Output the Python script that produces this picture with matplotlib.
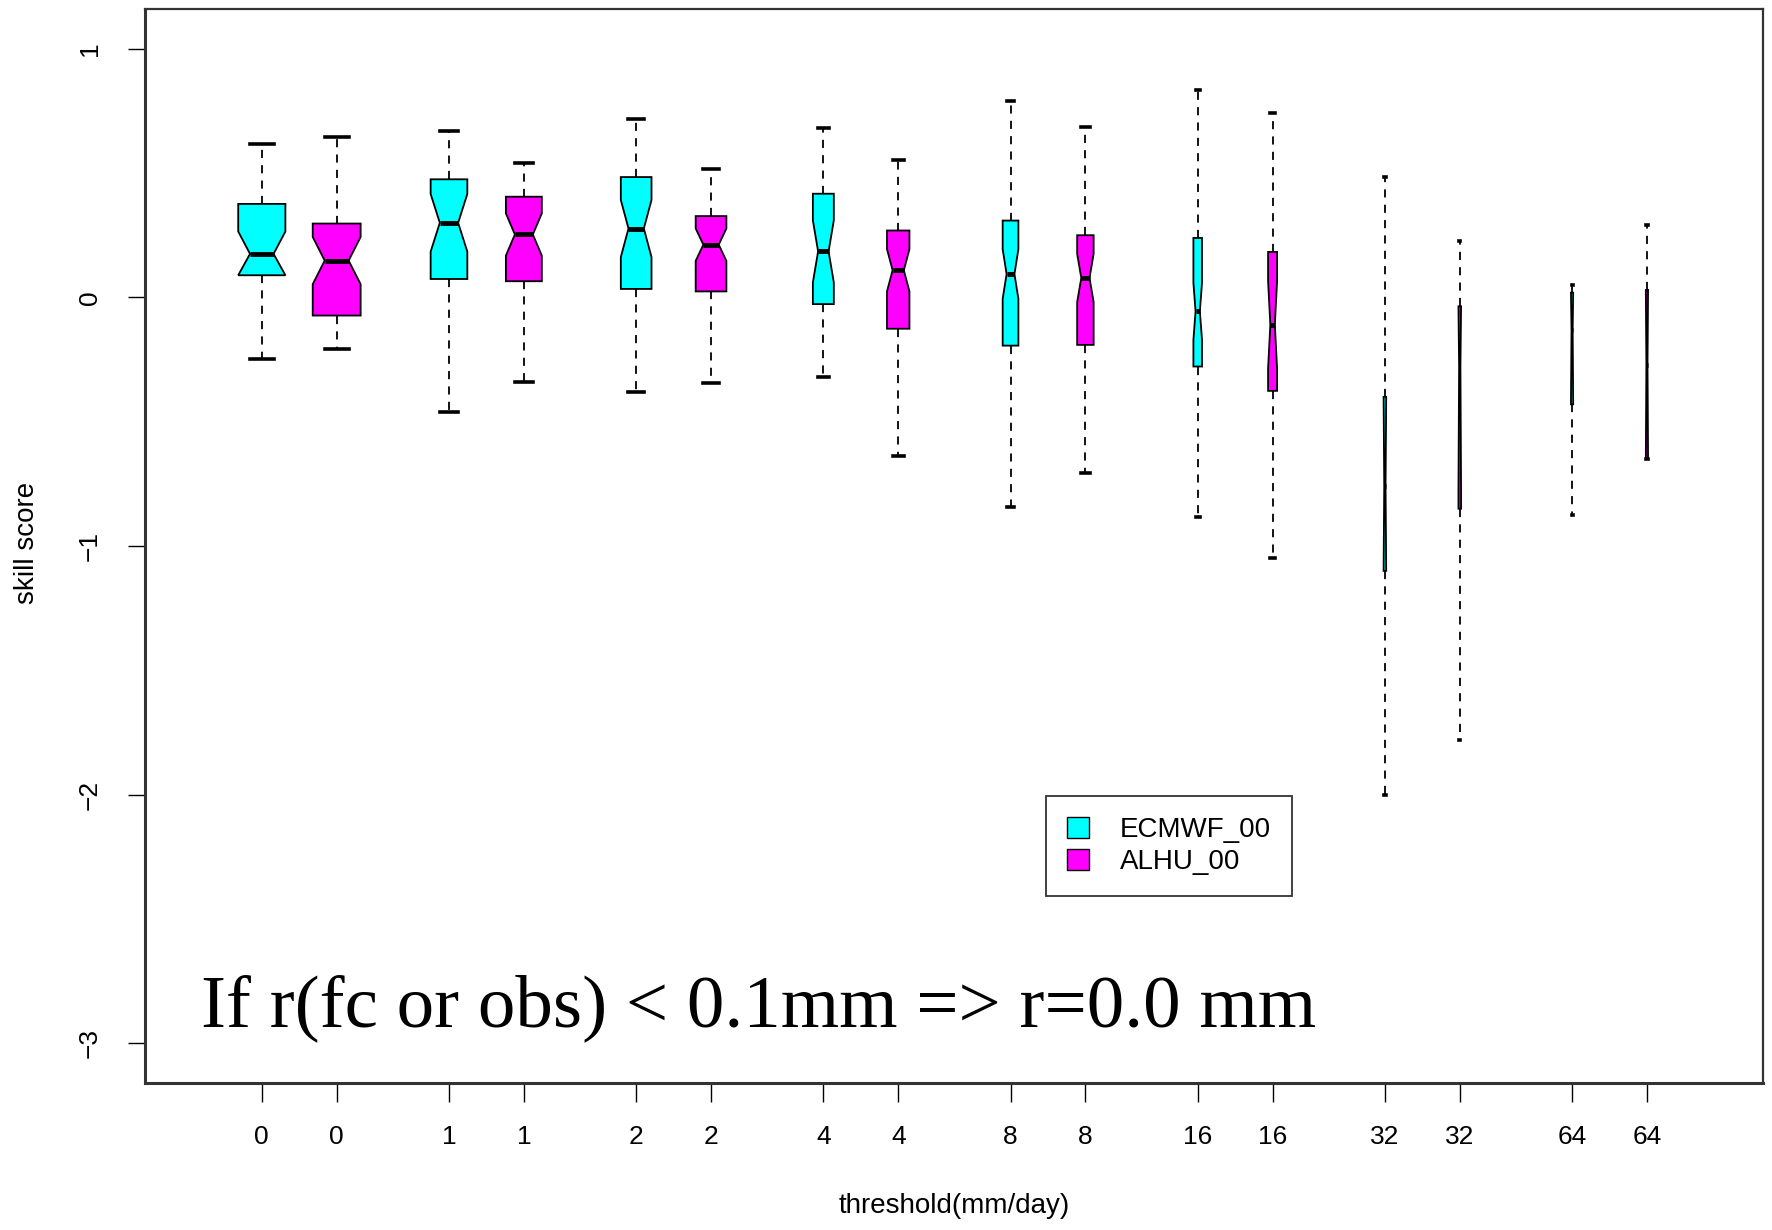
import matplotlib
matplotlib.use("Agg")
import matplotlib.pyplot as plt
from matplotlib.patches import Patch
from matplotlib import font_manager

# ---------------- data ----------------
thresholds = ["0", "1", "2", "4", "8", "16", "32", "64"]
models = ["ECMWF_00", "ALHU_00"]

# per threshold: [ECMWF, ALHU]
whisker_hi = [[0.616, 0.646], [0.669, 0.542], [0.716, 0.517], [0.680, 0.551],
              [0.790, 0.686], [0.836, 0.743], [0.486, 0.226], [0.050, 0.290]]
q3 =         [[0.376, 0.297], [0.475, 0.405], [0.484, 0.327], [0.417, 0.269],
              [0.309, 0.250], [0.239, 0.183], [-0.400, -0.036], [0.019, 0.030]]
median =     [[0.175, 0.148], [0.300, 0.253], [0.277, 0.212], [0.185, 0.109],
              [0.094, 0.078], [-0.056, -0.110], [-0.760, -0.281], [-0.130, -0.270]]
q1 =         [[0.089, -0.073], [0.074, 0.065], [0.034, 0.024], [-0.027, -0.126],
              [-0.194, -0.191], [-0.278, -0.376], [-1.100, -0.850], [-0.430, -0.650]]
whisker_lo = [[-0.249, -0.207], [-0.460, -0.342], [-0.380, -0.345], [-0.319, -0.636],
              [-0.843, -0.705], [-0.882, -1.048], [-2.000, -1.780], [-0.875, -0.650]]
notch_half = [[0.090, 0.095], [0.116, 0.085], [0.115, 0.065], [0.125, 0.085],
              [0.100, 0.097], [0.115, 0.175], [0.500, 0.500], [0.500, 0.500]]

annotation = "If r(fc or obs) < 0.1mm => r=0.0 mm"
xlabel = "threshold(mm/day)"
ylabel = "skill score"
yticks = [-3, -2, -1, 0, 1]

# ---------------- styling ----------------
colors = ["#00FFFF", "#FF00FF"]
box_widths = [[0.63, 0.64], [0.49, 0.48], [0.41, 0.41], [0.28, 0.30],
              [0.21, 0.22], [0.115, 0.12], [0.035, 0.035], [0.03, 0.03]]

available = {f.name for f in font_manager.fontManager.ttflist}
sans = "Liberation Sans Narrow" if "Liberation Sans Narrow" in available else "Liberation Sans"
plt.rcParams["font.family"] = [sans, "DejaVu Sans"]

fig = plt.figure(figsize=(17.72, 12.30), dpi=100)
ax = fig.add_axes([145 / 1772, 1 - 1083 / 1230, (1763 - 145) / 1772, (1083 - 9) / 1230])

stats, positions, widths, facecols, ticklabels = [], [], [], [], []
for g, thr in enumerate(thresholds):
    for k in range(2):
        med = median[g][k]
        lo = max(med - notch_half[g][k], q1[g][k])
        hi = min(med + notch_half[g][k], q3[g][k])
        stats.append(dict(med=med, q1=q1[g][k], q3=q3[g][k],
                          whislo=whisker_lo[g][k], whishi=whisker_hi[g][k],
                          cilo=lo, cihi=hi, fliers=[]))
        positions.append(1 + 2.5 * g + k)
        widths.append(box_widths[g][k])
        facecols.append(colors[k])
        ticklabels.append(thr)

res = ax.bxp(stats, positions=positions, widths=widths,
             capwidths=[w * 0.5 for w in widths],
             shownotches=True, patch_artist=True, showfliers=False,
             boxprops=dict(edgecolor="black", linewidth=1.3),
             whiskerprops=dict(color="black", linewidth=1.3, linestyle=(0, (4.5, 4))),
             capprops=dict(color="black", linewidth=2.6),
             medianprops=dict(color="black", linewidth=3.5))
for patch, fc in zip(res["boxes"], facecols):
    patch.set_facecolor(fc)

ax.set_xlim(-0.56, 21.05)
ax.set_ylim(-3.16, 1.16)
ax.set_xticks(positions)
ax.set_xticklabels(ticklabels)
ax.set_yticks(yticks)
ax.set_yticklabels([str(v).replace("-", "\u2212") for v in yticks])

ax.tick_params(axis="x", length=14, width=1.0, pad=16, labelsize=19)
ax.tick_params(axis="y", length=12, width=1.0, pad=19, labelsize=19)
for t in ax.get_yticklabels():
    t.set_rotation(90)
    t.set_va("center")

for sp in ax.spines.values():
    sp.set_linewidth(1.6)
    sp.set_color("#333333")
ax.spines["left"].set_linewidth(2.2)
ax.spines["bottom"].set_linewidth(2.2)

ax.set_xlabel(xlabel, fontsize=20)
ax.xaxis.set_label_coords(0.5, -0.1145)
ax.xaxis.label.set_va("center")
ax.set_ylabel(ylabel, fontsize=20)
ax.yaxis.set_label_coords(-0.073, 0.503)
ax.yaxis.label.set_va("center")

handles = [Patch(facecolor=colors[i], edgecolor="black", linewidth=1.0, label=models[i])
           for i in range(2)]
leg = ax.legend(handles=handles, loc="upper left", bbox_to_anchor=(0.557, 0.267),
                fontsize=20, frameon=True, fancybox=False, framealpha=1,
                edgecolor="#333333", borderpad=0.75, handlelength=0.8,
                handleheight=0.8, handletextpad=1.1, labelspacing=0.2,
                borderaxespad=0)
leg.get_frame().set_linewidth(1.3)

ax.text(0.19, -2.93, annotation, fontsize=54, family=["Liberation Serif", "DejaVu Serif"],
        ha="left", va="baseline", color="black")

fig.savefig("out.png", dpi=100, facecolor="white")
